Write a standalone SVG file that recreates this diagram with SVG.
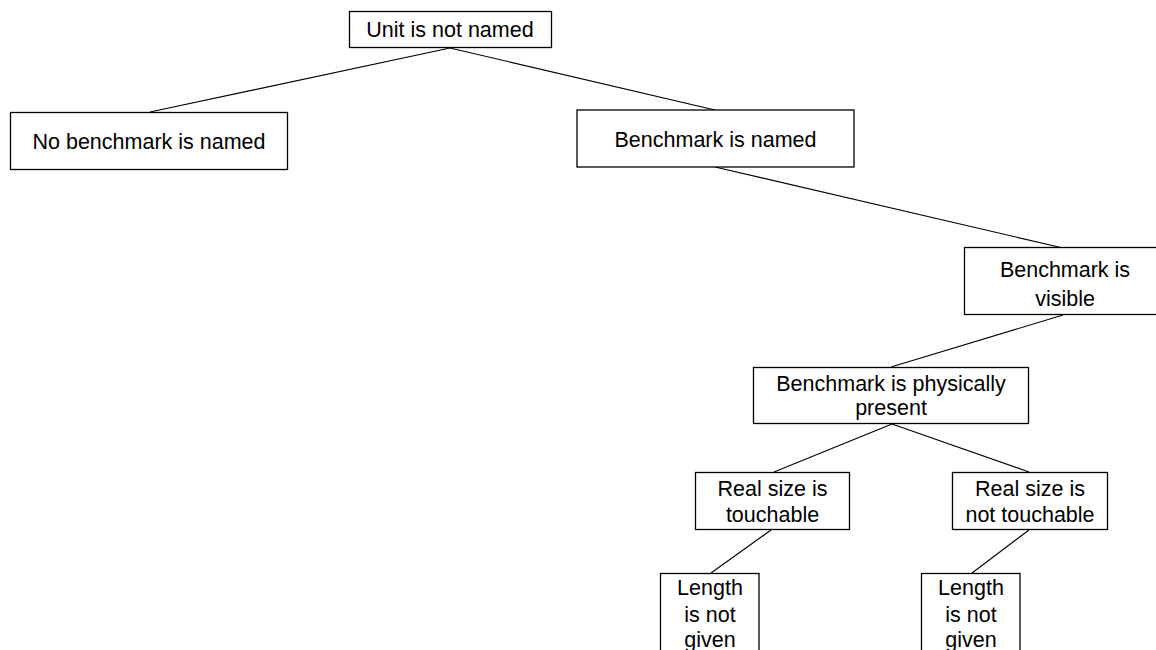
<svg xmlns="http://www.w3.org/2000/svg" width="1156" height="650" viewBox="0 0 1156 650">
  <style>
    .box { fill: #ffffff; stroke: #000000; stroke-width: 1.3; }
    .lbl { font-family: "Liberation Sans", Arial, sans-serif; font-size: 21.5px; fill: #000000; text-anchor: middle; }
    .edge { stroke: #000000; stroke-width: 1.1; fill: none; }
  </style>
  <rect width="1156" height="650" fill="#ffffff"/>

  <!-- connectors -->
  <g id="connectors">
    <line class="edge" x1="450" y1="48" x2="150" y2="112"/>
    <line class="edge" x1="450" y1="48" x2="715" y2="110"/>
    <line class="edge" x1="715" y1="167" x2="1063" y2="248"/>
    <line class="edge" x1="1063" y1="315" x2="891" y2="367"/>
    <line class="edge" x1="892" y1="424" x2="774" y2="472"/>
    <line class="edge" x1="892" y1="424" x2="1029" y2="472"/>
    <line class="edge" x1="771" y1="530" x2="711" y2="573"/>
    <line class="edge" x1="1029" y1="530" x2="972" y2="573"/>
  </g>

  <g id="unit-not-named">
    <rect class="box" x="349.5" y="11.5" width="202" height="36"/>
    <text class="lbl" x="450" y="37">Unit is not named</text>
  </g>

  <g id="no-benchmark-named">
    <rect class="box" x="10.5" y="112.5" width="277" height="57"/>
    <text class="lbl" x="149" y="149">No benchmark is named</text>
  </g>

  <g id="benchmark-named">
    <rect class="box" x="577" y="110" width="277" height="57"/>
    <text class="lbl" x="715.5" y="146.5">Benchmark is named</text>
  </g>

  <g id="benchmark-visible">
    <rect class="box" x="964.5" y="247.5" width="202" height="67"/>
    <text class="lbl" x="1065" y="277">Benchmark is</text>
    <text class="lbl" x="1065" y="305.5">visible</text>
  </g>

  <g id="benchmark-present">
    <rect class="box" x="753.5" y="367.5" width="275" height="56"/>
    <text class="lbl" x="891" y="391">Benchmark is physically</text>
    <text class="lbl" x="891" y="415">present</text>
  </g>

  <g id="size-touchable">
    <rect class="box" x="695.5" y="472.5" width="154" height="57"/>
    <text class="lbl" x="772.5" y="496">Real size is</text>
    <text class="lbl" x="772.5" y="522">touchable</text>
  </g>

  <g id="size-not-touchable">
    <rect class="box" x="952.5" y="472.5" width="155" height="57"/>
    <text class="lbl" x="1030" y="496">Real size is</text>
    <text class="lbl" x="1030" y="522">not touchable</text>
  </g>

  <g id="length-left">
    <rect class="box" x="660.5" y="573.5" width="98.5" height="90"/>
    <text class="lbl" x="710" y="595">Length</text>
    <text class="lbl" x="710" y="621.5">is not</text>
    <text class="lbl" x="710" y="647">given</text>
  </g>

  <g id="length-right">
    <rect class="box" x="921.5" y="573.5" width="98.5" height="90"/>
    <text class="lbl" x="971" y="595">Length</text>
    <text class="lbl" x="971" y="621.5">is not</text>
    <text class="lbl" x="971" y="647">given</text>
  </g>
</svg>
